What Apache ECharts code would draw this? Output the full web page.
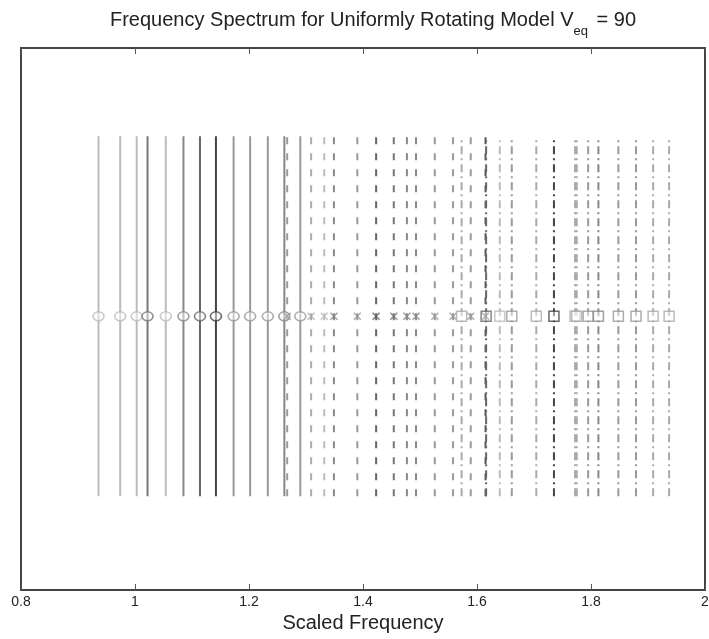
<!DOCTYPE html>
<html>
<head>
<meta charset="utf-8">
<script src="https://cdn.jsdelivr.net/npm/echarts@6/dist/echarts.min.js"></script>
<style>
  html,body{margin:0;padding:0;background:#fff;}
  .main{width:709px;height:639px;}
</style>
</head>
<body>
<div class="main"></div>
<script>
// frequencies
var circleFreqs=[0.936,0.974,1.003,1.022,1.054,1.085,1.114,1.142,1.173,1.202,1.233,1.262,1.290];
var crossFreqs=[1.267,1.309,1.332,1.349,1.390,1.423,1.454,1.477,1.493,1.526,1.558,1.589,1.615];
var squareFreqs=[1.573,1.616,1.640,1.661,1.704,1.735,1.772,1.775,1.795,1.813,1.848,1.879,1.909,1.937];
var xTicks=[0.8,1,1.2,1.4,1.6,1.8,2];
var lineLow=-1, lineHigh=1, markerLevel=0;

// grey shades per line
var circleShades=['#bbb','#bbb','#bbb','#777','#bbb','#888','#666','#444','#999','#999','#999','#888','#999'];
var crossShades=['#999','#aaa','#bbb','#888','#999','#666','#777','#888','#888','#999','#999','#999','#555'];
var squareShades=['#aaa','#666','#bbb','#999','#aaa','#444','#aaa','#aaa','#999','#888','#999','#999','#aaa','#aaa'];

var series=[];
function addLines(freqs,shades,dash){
  freqs.forEach(function(f,i){
    series.push({
      type:'line',
      data:[[f,lineLow],[f,lineHigh]],
      showSymbol:false,
      silent:true,
      lineStyle:{color:shades[i],width:2,type:dash}
    });
  });
}
function addMarks(freqs,shades,symbol,size){
  series.push({
    type:'scatter',
    symbol:symbol,
    symbolSize:size,
    z:5,
    data:freqs.map(function(f,i){
      return {value:[f,markerLevel],itemStyle:{color:'rgba(255,255,255,0.6)',borderColor:shades[i],borderWidth:1.5}};
    })
  });
}
addLines(circleFreqs,circleShades,'solid');
addLines(crossFreqs,crossShades,[7,9]);
addLines(squareFreqs,squareShades,[8,4,2,4]);
addMarks(circleFreqs,circleShades,'circle',[11,9]);
addMarks(crossFreqs,crossShades,'path://M0,0L10,10M10,0L0,10',[7,7]);
addMarks(squareFreqs,squareShades,'rect',[10,10]);

var myChart=echarts.init(document.querySelector('.main'));
var option={
  animation:false,
  title:{
    text:'{a|Frequency Spectrum for Uniformly Rotating Model V}{s|eq}{a| = 90}',
    left:368,
    textAlign:'center',
    top:5,
    textStyle:{
      fontWeight:'normal',
      rich:{
        a:{fontFamily:'Liberation Sans',fontSize:20,fontWeight:'normal',color:'#222'},
        s:{fontFamily:'Liberation Sans',fontSize:13,fontWeight:'normal',color:'#222',verticalAlign:'bottom',padding:[0,3,-8,0]}
      }
    }
  },
  grid:{left:21,right:4,top:48,bottom:49,outerBoundsMode:'none',containLabel:false,show:true,borderColor:'#444',borderWidth:2},
  xAxis:[{
    type:'value',min:0.8,max:2,interval:0.2,
    axisLine:{show:true,onZero:false,lineStyle:{color:'#444',width:2}},
    axisTick:{inside:true,length:6,lineStyle:{color:'#555'}},
    splitLine:{show:false},
    axisLabel:{
      color:'#222',fontFamily:'Liberation Sans',fontSize:14,margin:5,
      formatter:function(v){var r=Math.round(v*10)/10;return xTicks.indexOf(r)>=0?String(r):'';}
    },
    name:'Scaled Frequency',nameLocation:'middle',nameGap:22,
    nameTextStyle:{color:'#222',fontFamily:'Liberation Sans',fontSize:20}
  },{
    type:'value',position:'top',min:0.8,max:2,interval:0.2,
    axisLine:{show:true,onZero:false,lineStyle:{color:'#444',width:2}},
    axisTick:{inside:true,length:6,lineStyle:{color:'#555'}},
    axisLabel:{show:false},splitLine:{show:false}
  }],
  yAxis:{
    type:'value',min:-1.52,max:1.49,
    axisLine:{show:true,onZero:false,lineStyle:{color:'#444',width:2}},
    axisTick:{show:false},axisLabel:{show:false},splitLine:{show:false}
  },
  series:series
};
myChart.setOption(option);
</script>
</body>
</html>
